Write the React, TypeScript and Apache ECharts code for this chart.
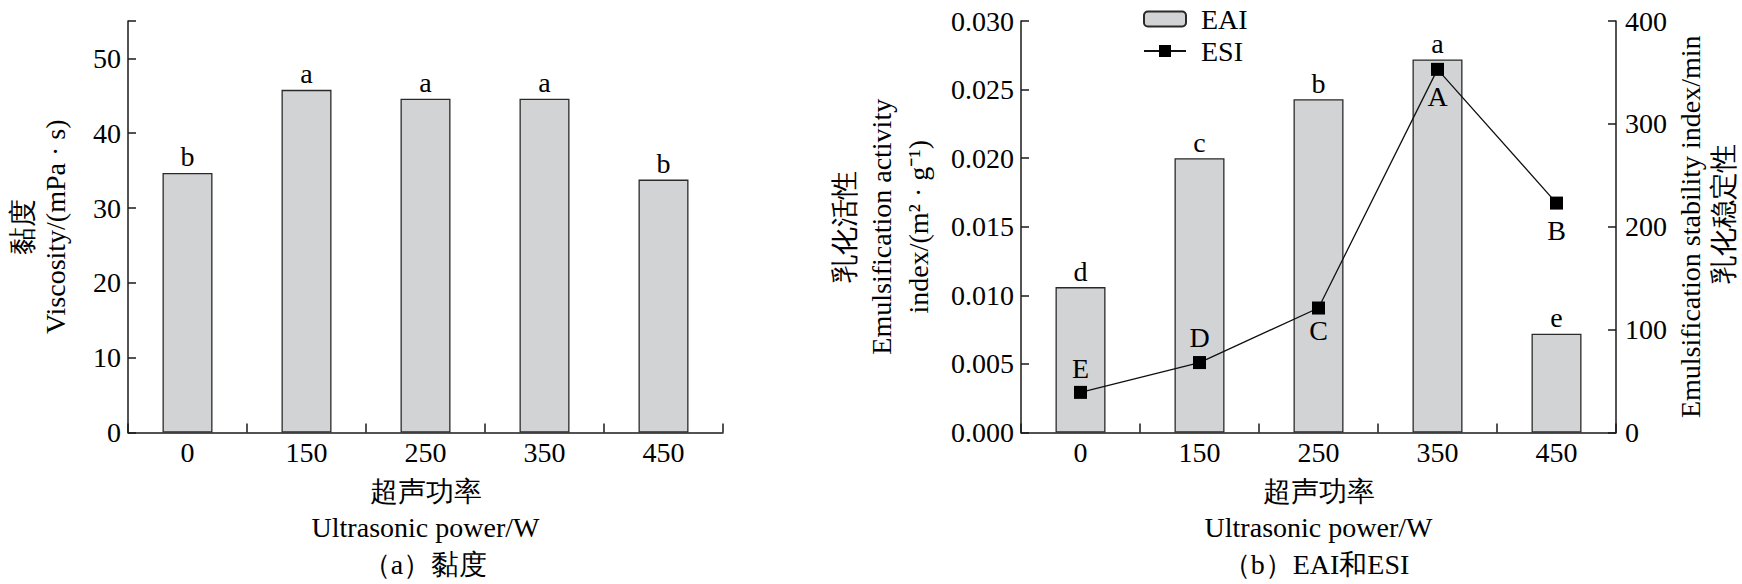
import React, { useEffect, useRef } from 'react';
import * as echarts from 'echarts';

// ---- data ----
const powers = ['0', '150', '250', '350', '450'];
const viscosity = [34.7, 45.8, 44.6, 44.6, 33.8];
const viscosityLetters = ['b', 'a', 'a', 'a', 'b'];
const eai = [0.0106, 0.02, 0.0243, 0.0272, 0.0072];
const eaiLetters = ['d', 'c', 'b', 'a', 'e'];
const esi = [39, 68, 121, 353, 223];
const esiLetters = ['E', 'D', 'C', 'A', 'B'];

// ---- styles ----
const FONT = 'Liberation Serif';
const AXIS_COLOR = '#1a1a1a';
const BAR_FILL = '#d2d3d5';
const esiLabelPos = ['top', 'top', 'bottom', 'bottom', 'bottom'];
const esiLabelDist = [3, 5, 2, 7, 7];

const txt = () => ({ color: '#000', fontSize: 28, fontFamily: FONT });

const xAxisFor = (gridIndex: number) => ({
  type: 'category',
  gridIndex,
  data: powers,
  boundaryGap: true,
  axisLine: { show: true, onZero: false, lineStyle: { color: AXIS_COLOR, width: 1.5 } },
  axisTick: { show: true, inside: true, length: 9, interval: 0, lineStyle: { color: AXIS_COLOR, width: 1.5 } },
  axisLabel: { ...txt(), margin: 6, interval: 0 },
  splitLine: { show: false },
  name: '超声功率\nUltrasonic power/W',
  nameLocation: 'middle',
  nameGap: 41,
  nameTextStyle: { ...txt(), lineHeight: 36 },
});

const yBase = {
  type: 'value',
  axisLine: { show: true, lineStyle: { color: AXIS_COLOR, width: 1.5 } },
  axisTick: { show: true, inside: true, length: 8, lineStyle: { color: AXIS_COLOR, width: 1.5 } },
  splitLine: { show: false },
};

export default function App() {
  const ref = useRef<HTMLDivElement>(null);
  useEffect(() => {
    if (!ref.current) return;
    const chart = echarts.init(ref.current, null, { renderer: 'svg' });
    chart.setOption({
      animation: false,
      grid: [
        { left: 128, top: 21, width: 595, height: 411.5 },
        { left: 1021, top: 21, width: 595, height: 411.5 },
      ],
      legend: {
        orient: 'vertical',
        left: 1138,
        top: 0,
        itemWidth: 42,
        itemHeight: 15,
        itemGap: 4,
        selectedMode: false,
        data: ['EAI', 'ESI'],
        textStyle: { ...txt(), padding: [0, 0, 0, 10] },
      },
      xAxis: [xAxisFor(0), xAxisFor(1)],
      yAxis: [
        {
          ...yBase,
          gridIndex: 0,
          min: 0,
          max: 55,
          interval: 10,
          axisLabel: { ...txt(), margin: 7, formatter: (v: number) => (v > 50 ? '' : String(v)) },
          name: '黏度\nViscosity/(mPa · s)',
          nameLocation: 'middle',
          nameRotate: 90,
          nameGap: 56,
          nameTextStyle: { ...txt(), lineHeight: 33 },
        },
        {
          ...yBase,
          gridIndex: 1,
          min: 0,
          max: 0.03,
          interval: 0.005,
          axisLabel: { ...txt(), margin: 7, formatter: (v: number) => v.toFixed(3) },
          name: '乳化活性\nEmulsification activity\nindex/(m² · g⁻¹)',
          nameLocation: 'middle',
          nameRotate: 90,
          nameGap: 84,
          nameTextStyle: { ...txt(), lineHeight: 37 },
        },
        {
          ...yBase,
          gridIndex: 1,
          position: 'right',
          min: 0,
          max: 400,
          interval: 100,
          axisLabel: { ...txt(), margin: 9 },
          name: 'Emulsification stability index/min',
          nameLocation: 'middle',
          nameRotate: 90,
          nameGap: 58,
          nameTextStyle: { ...txt(), lineHeight: 33 },
        },
      ],
      series: [
        {
          name: 'Viscosity',
          type: 'bar',
          xAxisIndex: 0,
          yAxisIndex: 0,
          data: viscosity,
          barWidth: 50,
          itemStyle: { color: BAR_FILL, borderColor: '#2a2a2a', borderWidth: 1.3 },
          label: {
            show: true,
            position: 'top',
            distance: 2,
            ...txt(),
            formatter: (p: any) => viscosityLetters[p.dataIndex],
          },
        },
        {
          name: 'EAI',
          type: 'bar',
          xAxisIndex: 1,
          yAxisIndex: 1,
          data: eai,
          barWidth: 50,
          itemStyle: { color: BAR_FILL, borderColor: '#2a2a2a', borderWidth: 1.3 },
          label: {
            show: true,
            position: 'top',
            distance: 2,
            ...txt(),
            formatter: (p: any) => eaiLetters[p.dataIndex],
          },
        },
        {
          name: 'ESI',
          type: 'line',
          xAxisIndex: 1,
          yAxisIndex: 2,
          symbol: 'rect',
          symbolSize: 13,
          z: 5,
          lineStyle: { color: '#111', width: 1.3 },
          itemStyle: { color: '#000' },
          label: { show: true, ...txt(), formatter: (p: any) => esiLetters[p.dataIndex] },
          data: esi.map((v, i) => ({
            value: v,
            label: { position: esiLabelPos[i], distance: esiLabelDist[i] },
          })),
        },
      ],
      graphic: [
        {
          type: 'text',
          x: 1723,
          y: 214,
          rotation: Math.PI / 2,
          style: { text: '乳化稳定性', fill: '#000', fontSize: 28, fontFamily: FONT, align: 'center', verticalAlign: 'middle' },
        },
        {
          type: 'text',
          x: 425,
          y: 564,
          style: { text: '（a）黏度', fill: '#000', fontSize: 28, fontFamily: FONT, align: 'center', verticalAlign: 'middle' },
        },
        {
          type: 'text',
          x: 1316,
          y: 564,
          style: { text: '（b）EAI和ESI', fill: '#000', fontSize: 28, fontFamily: FONT, align: 'center', verticalAlign: 'middle' },
        },
      ],
    });
    return () => chart.dispose();
  }, []);
  return (
    <div
      ref={ref}
      style={{ position: 'fixed', left: 0, top: 0, width: 1742, height: 584, background: '#fff' }}
    />
  );
}
